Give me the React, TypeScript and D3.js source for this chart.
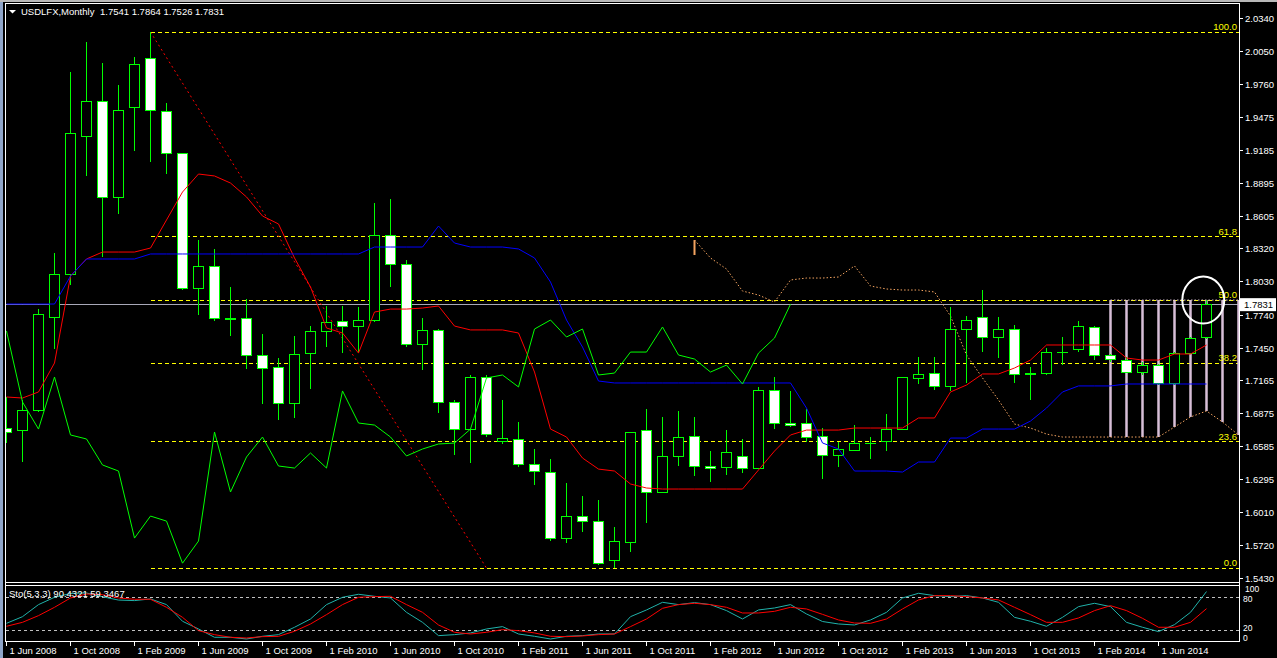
import React from "react";
import * as d3 from "d3";

// USDLFX monthly bars, Jun 2008 .. Sep 2014
const opens = [
  1.6745, 1.6727, 1.6903, 1.7718, 1.8087, 1.9297, 1.9612, 1.8762, 1.9551, 1.9981,
  1.9516, 1.9148, 1.7964, 1.8157, 1.7701, 1.7701, 1.7385, 1.728, 1.6956, 1.7402,
  1.7587, 1.7675, 1.7631, 1.7692, 1.8437, 1.8183, 1.7481, 1.7596, 1.6973, 1.6736,
  1.7184, 1.6631, 1.664, 1.6421, 1.6359, 1.578, 1.5973, 1.5929, 1.5587, 1.5745,
  1.6719, 1.6184, 1.6491, 1.6675, 1.6412, 1.6403, 1.6491, 1.6394, 1.707, 1.6789,
  1.6789, 1.6675, 1.6508, 1.6552, 1.6613, 1.6631, 1.6736, 1.7175, 1.7219, 1.7105,
  1.7605, 1.771, 1.7543, 1.7605, 1.721, 1.7227, 1.7411, 1.743, 1.7622, 1.7385,
  1.7341, 1.7236, 1.7297, 1.7131, 1.7402, 1.7541,
];
const highs = [
  1.7017, 1.6991, 1.7788, 1.828, 1.9867, 2.013, 1.9945, 1.9753, 1.9998, 2.0217,
  1.9595, 1.9156, 1.8393, 1.8315, 1.7981, 1.7876, 1.7569, 1.7359, 1.7552, 1.7639,
  1.7815, 1.7815, 1.7806, 1.8718, 1.8753, 1.8218, 1.771, 1.7613, 1.6991, 1.721,
  1.721, 1.6991, 1.6798, 1.6561, 1.6473, 1.6263, 1.6149, 1.6114, 1.5876, 1.671,
  1.6912, 1.6842, 1.6894, 1.6842, 1.6543, 1.6727, 1.6649, 1.7105, 1.7192, 1.707,
  1.6912, 1.6745, 1.6622, 1.6771, 1.6666, 1.6868, 1.7184, 1.7368, 1.7368, 1.7806,
  1.7727, 1.7955, 1.7718, 1.7648, 1.728, 1.7447, 1.7543, 1.7684, 1.7639, 1.7394,
  1.7368, 1.7324, 1.7306, 1.7411, 1.7543, 1.7864,
];
const lows = [
  1.6614, 1.6447, 1.6886, 1.7438, 1.7999, 1.8955, 1.8244, 1.8622, 1.9174, 1.9077,
  1.8972, 1.7955, 1.7736, 1.7684, 1.7552, 1.7262, 1.6956, 1.6815, 1.6833, 1.7087,
  1.7455, 1.7402, 1.7402, 1.7675, 1.7981, 1.7455, 1.7254, 1.6877, 1.6508, 1.6438,
  1.6666, 1.6605, 1.6403, 1.6245, 1.5754, 1.5737, 1.5833, 1.5543, 1.5517, 1.5657,
  1.5912, 1.6175, 1.6412, 1.6324, 1.6271, 1.6333, 1.635, 1.6385, 1.6736, 1.6754,
  1.6622, 1.6298, 1.6403, 1.6543, 1.6473, 1.6543, 1.6727, 1.7131, 1.7078, 1.707,
  1.714, 1.7411, 1.7359, 1.714, 1.6991, 1.721, 1.7297, 1.7411, 1.7341, 1.7324,
  1.7227, 1.721, 1.7122, 1.7122, 1.7394, 1.7526,
];
const closes = [
  1.671, 1.6903, 1.7736, 1.8095, 1.9323, 1.9612, 1.8762, 1.9525, 1.9928, 1.9525,
  1.9148, 1.7972, 1.8157, 1.7701, 1.7701, 1.7385, 1.7271, 1.6964, 1.7394, 1.7587,
  1.7666, 1.7631, 1.7692, 1.8437, 1.8183, 1.7473, 1.7596, 1.6973, 1.6736, 1.7192,
  1.6684, 1.6649, 1.6421, 1.6368, 1.578, 1.5973, 1.5929, 1.556, 1.5754, 1.671,
  1.6184, 1.6491, 1.6666, 1.6412, 1.6394, 1.6526, 1.6394, 1.707, 1.6789, 1.6771,
  1.6666, 1.65, 1.6561, 1.6605, 1.6613, 1.6736, 1.7184, 1.721, 1.7105, 1.7613,
  1.7692, 1.7543, 1.7613, 1.721, 1.7227, 1.7411, 1.7411, 1.7631, 1.7385, 1.735,
  1.7236, 1.7297, 1.7131, 1.7402, 1.7534, 1.7831,
];

// Ichimoku lines
const tenkan = [
  1.7017, 1.7008, 1.7061, 1.7315, 1.8078, 1.8227, 1.8288, 1.8288, 1.8288, 1.8323,
  1.8569, 1.8814, 1.8972, 1.8955, 1.8893, 1.8771, 1.8604, 1.8534, 1.8236, 1.7981,
  1.7622, 1.7578, 1.7402, 1.7762, 1.7788, 1.7788, 1.7797, 1.7815, 1.7639, 1.7605,
  1.7605, 1.7605, 1.7578, 1.7236, 1.6736, 1.6666, 1.6482, 1.6385, 1.6368, 1.6254,
  1.6219, 1.621, 1.621, 1.621, 1.621, 1.621, 1.621, 1.6377, 1.6543, 1.6684,
  1.6727, 1.6727, 1.6727, 1.6745, 1.6745, 1.6745, 1.6745, 1.6833, 1.6833, 1.7061,
  1.7122, 1.7219, 1.7219, 1.7271, 1.7341, 1.7473, 1.7473, 1.7473, 1.7473, 1.7473,
  1.7359, 1.7341, 1.7341, 1.7394, 1.7394, 1.7473,
];
const kijun = [
  1.7832, 1.7832, 1.7832, 1.7832, 1.8078, 1.8227, 1.8227, 1.8227, 1.8227, 1.8271,
  1.8271, 1.8271, 1.8271, 1.8271, 1.8271, 1.8271, 1.8271, 1.8271, 1.8271, 1.8271,
  1.8271, 1.8271, 1.8271, 1.8332, 1.8332, 1.8332, 1.8332, 1.8516, 1.8367, 1.8332,
  1.8332, 1.8332, 1.8315, 1.8236, 1.8025, 1.7692, 1.7455, 1.7157, 1.714, 1.714,
  1.714, 1.714, 1.714, 1.714, 1.714, 1.714, 1.714, 1.714, 1.714, 1.714,
  1.692, 1.6614, 1.6561, 1.6368, 1.6368, 1.6368, 1.6359, 1.6447, 1.6447, 1.6657,
  1.6657, 1.6736, 1.6736, 1.6736, 1.6806, 1.692, 1.7061, 1.7114, 1.7114, 1.7114,
  1.7131, 1.7131, 1.7131, 1.7131, 1.7131, 1.7131,
];
const spanAStart = 43;
const spanA = [
  1.8393, 1.8236, 1.8139, 1.7946, 1.7911, 1.785, 1.8043, 1.806, 1.806, 1.8069,
  1.8166, 1.799, 1.7964, 1.7955, 1.7955, 1.7938, 1.7727, 1.7385, 1.7184, 1.6991,
  1.678, 1.6745, 1.6692, 1.6666, 1.6666, 1.6666, 1.6666, 1.6666, 1.6666, 1.6666,
  1.6754, 1.6842, 1.6894, 1.6798, 1.6684,
];
const spanBStart = 69;
const spanB = [1.7867, 1.7867, 1.7867, 1.7867, 1.7867, 1.7867, 1.7867, 1.7867, 1.7867];
const kumoStub = [1.8393, 1.8262];
const chikouShift = 26;

// Stochastic (5,3,3)
const stochMain = [
  32.7, 44.8, 66.7, 80, 87, 87.9, 81, 75, 74, 77,
  66.7, 36.4, 22.4, 7.3, 7.3, 4.2, 9.1, 12.1, 25.5, 40.6,
  66.7, 80, 85.5, 81.8, 78.8, 52.7, 34.5, 10.3, 12.1, 15.2,
  22.4, 26.7, 13.3, 9.1, 4.2, 9.1, 10.3, 13.3, 13.3, 44.8,
  57, 70.9, 66.7, 70.3, 66.7, 55.8, 40.6, 57, 60.6, 66.7,
  49.7, 36, 31.5, 29.7, 38.8, 52.7, 78.8, 87.3, 83, 81.2,
  83, 78.8, 70.9, 43.6, 36.4, 27.3, 43.6, 63, 69.1, 63,
  34.5, 25.5, 17.6, 30.3, 52.7, 90.4321,
];
const stochSignal = [
  27.3, 34.5, 46.7, 61.8, 78.8, 86, 84.8, 78.8, 76.4, 76.4,
  61.8, 43.6, 19.4, 12.1, 7.3, 6, 8.5, 9, 18.2, 31.5,
  48.5, 66.7, 80, 81.2, 81.8, 66.7, 52.7, 29.7, 16.4, 13.3,
  16.4, 21.2, 19.4, 15.2, 9.1, 8.5, 9.7, 12.1, 13.3, 26.7,
  40.6, 60, 66.7, 69.1, 66.7, 61.8, 51.5, 51.5, 54.5, 61.8,
  58.8, 49, 38.8, 33.3, 32.7, 40.6, 58.8, 75.2, 83, 83,
  81.2, 78.8, 75.2, 61.8, 48.5, 34.5, 34.5, 42.4, 55.8, 64.8,
  55.8, 41.8, 25.5, 25.5, 34.5, 59.3467,
];
const stochLevels = [80, 20];

const priceTicks = [
  "2.0340", "2.0050", "1.9760", "1.9475", "1.9185", "1.8895", "1.8605", "1.8320", "1.8030",
  "1.7740", "1.7450", "1.7165", "1.6875", "1.6585", "1.6295", "1.6010", "1.5720", "1.5430",
];
const dateLabels = [
  "1 Jun 2008", "1 Oct 2008", "1 Feb 2009", "1 Jun 2009", "1 Oct 2009", "1 Feb 2010",
  "1 Jun 2010", "1 Oct 2010", "1 Feb 2011", "1 Jun 2011", "1 Oct 2011", "1 Feb 2012",
  "1 Jun 2012", "1 Oct 2012", "1 Feb 2013", "1 Jun 2013", "1 Oct 2013", "1 Feb 2014", "1 Jun 2014",
];
const dateStep = 4;

const fibLevels = [100, 61.8, 50, 38.2, 23.6, 0];
const fibHigh = 2.0217;
const fibLow = 1.5517;
const fibFrom = 9;
const fibTo = 30;

const FONT = "Liberation Sans, Arial, sans-serif";
const L = 6, R = 1239;

export default function App() {
  const x = d3.scaleLinear().domain([0, 1]).range([6.5, 22.5]);
  const y = d3.scaleLinear().domain([1.543, 2.034]).range([578, 18]);
  const ys = d3.scaleLinear().domain([0, 100]).range([641.3, 586.3]);

  const pline = d3.line<[number, number]>().x((d) => x(d[0])).y((d) => y(d[1]));
  const sline = d3.line<[number, number]>().x((d) => x(d[0])).y((d) => ys(d[1]));

  const tenkanPath = pline(tenkan.map((v, i) => [i, v]));
  const kijunPath = pline(kijun.map((v, i) => [i, v]));
  const chikouPath = pline(closes.slice(chikouShift).map((v, i) => [i, v]));
  const spanAPath = pline(spanA.map((v, i) => [i + spanAStart, v]));
  const spanBPath = pline(spanB.map((v, i) => [i + spanBStart, v]));
  const mainPath = sline(stochMain.map((v, i) => [i, v]));
  const sigPath = sline(stochSignal.map((v, i) => [i, v]));

  const n = closes.length - 1;
  const last = closes[n];
  const fibY = (lvl: number) => y(fibLow + ((fibHigh - fibLow) * lvl) / 100);

  return (
    <div style={{ position: "fixed", left: 0, top: 0 }}>
      <svg width={1277} height={658} style={{ display: "block", background: "#000" }} fontFamily={FONT}>
        <defs>
          <clipPath id="mainClip">
            <rect x={L} y={5} width={R - L} height={577} />
          </clipPath>
          <clipPath id="subClip">
            <rect x={L} y={586} width={R - L} height={55} />
          </clipPath>
        </defs>
        <rect x={0} y={0} width={1277} height={658} fill="#000" />
        <rect x={0} y={0} width={3} height={658} fill="#8ea4c8" />
        <rect x={0} y={0} width={1277} height={2} fill="#b8b8b8" />

        <g clipPath="url(#mainClip)">
          {/* bid line */}
          <line x1={L} x2={R} y1={y(last)} y2={y(last)} stroke="#a8a8b8" strokeWidth={1} shapeRendering="crispEdges" />

          {/* fibo */}
          {fibLevels.map((lvl) => (
            <line key={lvl} x1={x(fibFrom)} x2={R} y1={fibY(lvl)} y2={fibY(lvl)} stroke="#ffff00" strokeDasharray="4,3" shapeRendering="crispEdges" />
          ))}
          <line x1={x(fibFrom)} y1={y(fibHigh)} x2={x(fibTo)} y2={y(fibLow)} stroke="#ff0000" strokeDasharray="2,3" />

          {/* kumo */}
          {spanB.map((v, i) => (
            <line key={"kb" + i} x1={x(i + spanBStart)} x2={x(i + spanBStart)} y1={y(v)} y2={y(spanA[i + spanBStart - spanAStart])} stroke="#d8bfd8" strokeWidth={2.5} />
          ))}
          <line x1={x(spanAStart)} x2={x(spanAStart)} y1={y(kumoStub[0])} y2={y(kumoStub[1])} stroke="#f4a460" strokeWidth={2} />
          <path d={spanAPath || ""} fill="none" stroke="#f4a460" strokeDasharray="1.5,2" />
          <path d={spanBPath || ""} fill="none" stroke="#d8bfd8" strokeDasharray="1.5,2" />

          {/* candles */}
          {opens.map((o, i) => {
            const c = closes[i];
            const cx = x(i);
            const top = y(Math.max(o, c));
            const bot = y(Math.min(o, c));
            return (
              <g key={"c" + i} shapeRendering="crispEdges">
                <line x1={cx} x2={cx} y1={y(highs[i])} y2={y(lows[i])} stroke="#00ff00" />
                <rect x={cx - 5} y={top} width={10} height={Math.max(bot - top, 0.5)} fill={c >= o ? "#000" : "#fff"} stroke="#00ff00" />
              </g>
            );
          })}

          <path d={tenkanPath || ""} fill="none" stroke="#ff0000" strokeWidth={1} />
          <path d={kijunPath || ""} fill="none" stroke="#0000ff" strokeWidth={1} />
          <path d={chikouPath || ""} fill="none" stroke="#00ff00" strokeWidth={1} />

          {fibLevels.map((lvl) => (
            <text key={"ft" + lvl} x={R - 2} y={fibY(lvl) - 2} fill="#ffff00" fontSize={9.5} textAnchor="end">
              {lvl.toFixed(1)}
            </text>
          ))}

          <ellipse cx={x(74.8)} cy={y(1.7868)} rx={21} ry={23.5} fill="none" stroke="#fff" strokeWidth={2} />
        </g>

        {/* title */}
        <polygon points="9,10 16,10 12.5,13.5" fill="#fff" />
        <text x={21} y={15} fill="#fff" fontSize={9.5}>USDLFX,Monthly</text>
        <text x={100} y={15} fill="#fff" fontSize={9.5}>
          {[opens[n], highs[n], lows[n], closes[n]].map((v) => v.toFixed(4)).join(" ")}
        </text>

        {/* stochastic */}
        <g clipPath="url(#subClip)">
          {stochLevels.map((lv) => (
            <line key={lv} x1={L} x2={R} y1={Math.round(ys(lv)) + 0.5} y2={Math.round(ys(lv)) + 0.5} stroke="#c0c0c0" strokeDasharray="3,3" />
          ))}
          <path d={mainPath || ""} fill="none" stroke="#20b2aa" strokeWidth={1} />
          <path d={sigPath || ""} fill="none" stroke="#ff0000" strokeWidth={1} />
        </g>
        <text x={9} y={597} fill="#fff" fontSize={9.5}>
          {"Sto(5,3,3) " + stochMain[n].toFixed(4) + " " + stochSignal[n].toFixed(4)}
        </text>

        {/* frames */}
        <g stroke="#fff" shapeRendering="crispEdges" fill="none">
          <line x1={5.5} x2={5.5} y1={3} y2={642} />
          <line x1={5} x2={1240} y1={3.5} y2={3.5} />
          <line x1={1239.5} x2={1239.5} y1={3} y2={642} />
          <line x1={5} x2={1240} y1={582.5} y2={582.5} />
          <line x1={5} x2={1240} y1={585.5} y2={585.5} />
          <line x1={5} x2={1240} y1={641.5} y2={641.5} />
        </g>

        {/* price axis */}
        {priceTicks.map((t) => {
          const ty = Math.round(y(+t)) + 0.5;
          return (
            <g key={t}>
              <line x1={1239} x2={1243} y1={ty} y2={ty} stroke="#fff" shapeRendering="crispEdges" />
              <text x={1245} y={ty + 3.5} fill="#fff" fontSize={9.5}>{t}</text>
            </g>
          );
        })}
        <rect x={1240} y={y(last) - 6} width={36} height={13} fill="#fff" />
        <text x={1244} y={y(last) + 3.5} fill="#000" fontSize={9.5}>{last.toFixed(4)}</text>

        {/* stochastic axis */}
        <text x={1245} y={592} fill="#fff" fontSize={8.5}>100</text>
        <text x={1243} y={602} fill="#fff" fontSize={8.5}>80</text>
        <text x={1243} y={631} fill="#fff" fontSize={8.5}>20</text>
        <text x={1243} y={641} fill="#fff" fontSize={8.5}>0</text>

        {/* date axis */}
        {dateLabels.map((d, k) => {
          const tx = x(k * dateStep);
          return (
            <g key={d}>
              <line x1={tx} x2={tx} y1={642} y2={646} stroke="#fff" shapeRendering="crispEdges" />
              <text x={tx + 3} y={654} fill="#fff" fontSize={9.5}>{d}</text>
            </g>
          );
        })}
      </svg>
    </div>
  );
}
